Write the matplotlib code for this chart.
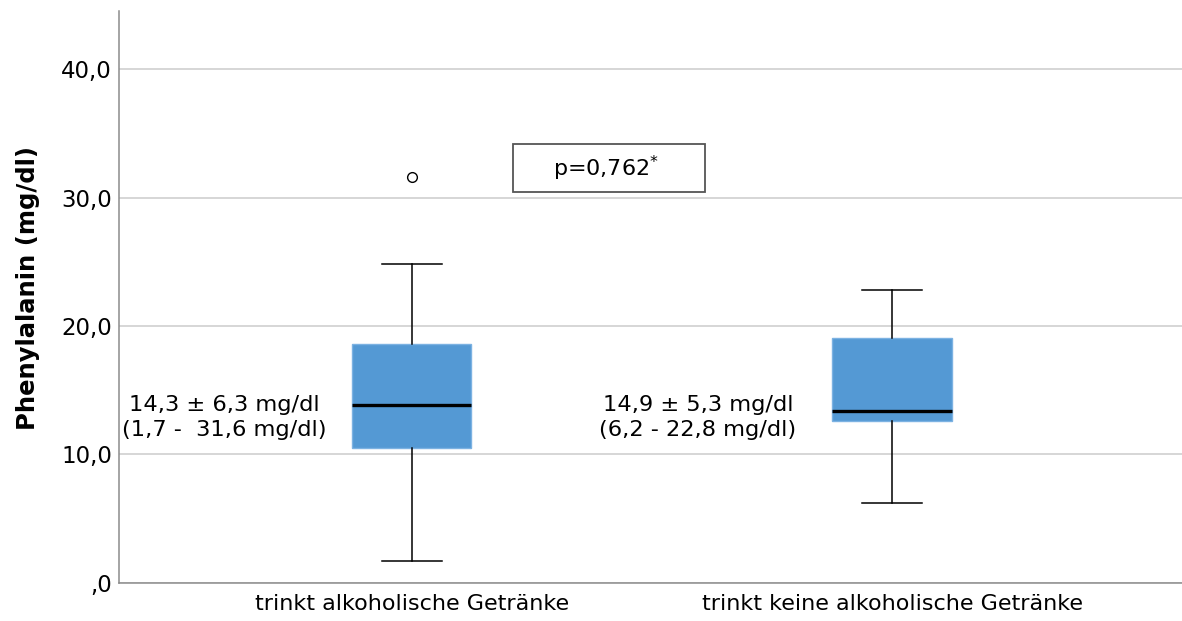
import matplotlib
matplotlib.use("Agg")
import matplotlib.pyplot as plt
from matplotlib.patches import Rectangle

plt.rcParams['font.family'] = ['DejaVu Sans']

# Summary statistics of the two groups
categories = ["trinkt alkoholische Getränke", "trinkt keine alkoholische Getränke"]
whisker_low = [1.7, 6.2]
q1 = [10.5, 12.6]
median = [13.85, 13.4]
q3 = [18.6, 19.1]
whisker_high = [24.8, 22.8]
outliers = [[31.6], []]
annotations = ["14,3 ± 6,3 mg/dl\n(1,7 -  31,6 mg/dl)",
               "14,9 ± 5,3 mg/dl\n(6,2 - 22,8 mg/dl)"]
p_text = "p=0,762$^{*}$"
y_ticks = [0, 10, 20, 30, 40]
y_ticklabels = [",0", "10,0", "20,0", "30,0", "40,0"]

fig = plt.figure(figsize=(11.82, 6.21), dpi=100)
ax = fig.add_axes([0.1007, 0.0612, 0.8993, 0.9208])

stats = []
for i in range(len(categories)):
    stats.append(dict(whislo=whisker_low[i], q1=q1[i], med=median[i],
                      q3=q3[i], whishi=whisker_high[i], fliers=outliers[i]))

positions = [1, 2]
ax.bxp(stats, positions=positions, widths=0.248, patch_artist=True,
       showfliers=True, capwidths=0.125,
       boxprops=dict(facecolor="#5499d4", edgecolor="#7cb2e2", linewidth=1),
       medianprops=dict(color="black", linewidth=2.4),
       whiskerprops=dict(color="black", linewidth=1.1),
       capprops=dict(color="black", linewidth=1.1),
       flierprops=dict(marker="o", markerfacecolor="white",
                       markeredgecolor="black", markersize=7,
                       markeredgewidth=1.0))

ax.set_xlim(0.39, 2.604)
ax.set_ylim(0, 44.5)
ax.set_yticks(y_ticks)
ax.set_yticklabels(y_ticklabels, fontsize=16.5)
ax.set_xticks(positions)
ax.set_xticklabels(categories, fontsize=16)
ax.tick_params(axis="both", length=0)
ax.tick_params(axis="y", pad=5)
ax.tick_params(axis="x", pad=8)

ax.yaxis.grid(True, color="#d0d0d0", linewidth=1.2)
ax.set_axisbelow(True)
for side in ("top", "right"):
    ax.spines[side].set_visible(False)
for side in ("left", "bottom"):
    ax.spines[side].set_color("#8c8c8c")
    ax.spines[side].set_linewidth(1.1)

ax.set_ylabel("Phenylalanin (mg/dl)", fontsize=17.5, fontweight="bold")
ax.yaxis.set_label_coords(-0.0745, 0.5166)

# Mean ± SD and range labels beside each box
text_x = [0.61, 1.596]
for x, txt in zip(text_x, annotations):
    ax.text(x, 12.9, txt, ha="center", va="center", fontsize=16.2,
            multialignment="center", linespacing=1.3)

# p-value box
ax.add_patch(Rectangle((1.21, 30.4), 0.40, 3.8, facecolor="white",
                       edgecolor="#555555", linewidth=1.3, zorder=3))
ax.text(1.405, 32.3, p_text, ha="center", va="center", fontsize=16, zorder=4)

fig.savefig("out.png", dpi=100)
